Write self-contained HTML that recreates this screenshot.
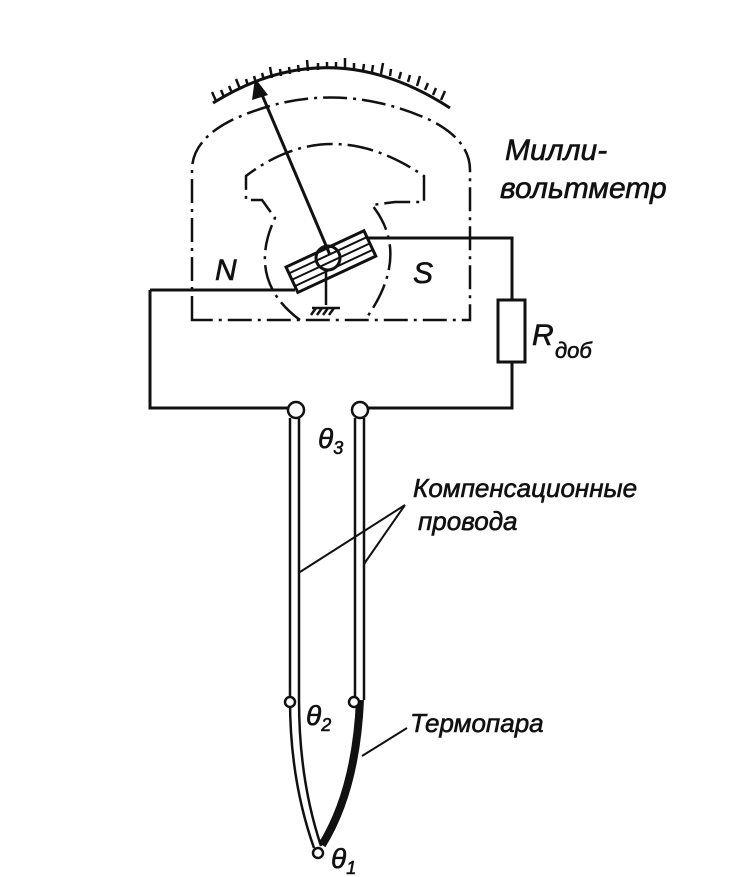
<!DOCTYPE html>
<html><head><style>body{margin:0;background:#fff}svg{display:block}</style></head><body>
<svg width="756" height="877" viewBox="0 0 756 877" xmlns="http://www.w3.org/2000/svg" font-family="Liberation Sans, sans-serif" font-style="italic">
<rect width="756" height="877" fill="#fff"/>
<g stroke="#111" fill="none" stroke-width="3">
<!-- scale -->
<path d="M213,103 Q330,30 450,108" />
<g stroke-width="2.5">
<path d="M216,101 l-4,-9 M224,97 l-3,-7 M232,93 l-3,-7 M240,89 l-4,-10 M248,86 l-2,-7 M256,83 l-2,-7 M264,80 l-2,-7 M272,78 l-2,-11 M281,76 l-1,-7 M290,74 l-1,-7 M299,72 l-1,-7 M308,71 l-1,-11 M318,70 l0,-7 M327,69 l0,-7 M336,69 l0,-7 M345,69 l0,-11 M354,70 l0,-7 M363,71 l1,-7 M372,72 l1,-7 M381,74 l2,-11 M390,76 l1,-7 M399,79 l2,-7 M408,82 l2,-7 M417,86 l3,-10 M425,90 l3,-7 M433,95 l3,-7 M441,100 l4,-9"/>
</g>
<!-- outer dash-dot case -->
<path d="M192,320 L192,170 Q192,140 232,120 Q330,75 430,120 Q470,140 470,170 L470,320 Z" stroke-width="2.5" stroke-dasharray="24,6,3,6"/>
<!-- magnet -->
<path d="M300,320 Q246,280 275,218 L262,200 L246,200 L246,176 Q330,112 424,176 L424,202 L395,202 L372,205 Q412,255 365,320" stroke-width="2.5" stroke-dasharray="26,6,3,6"/>
<!-- wires -->
<path d="M150,290 L295,290"/>
<path d="M150,290 L150,408 L288,408"/>
<path d="M365,238 L512,238 L512,300"/>
<rect x="498" y="300" width="27" height="62"/>
<path d="M512,362 L512,408 L368,408"/>
<!-- coil -->
<g transform="rotate(-25 330 262)">
<rect x="288" y="248" width="86" height="28" fill="#fff"/>
<path d="M288,255 L374,255 M288,262 L374,262 M288,269 L374,269" stroke-width="2"/>
</g>
<circle cx="328" cy="258" r="12" fill="none"/>
<path d="M326,270 L326,305 M312,308 L340,308 M316,308 l-5,7 M322,308 l-5,7 M328,308 l-5,7 M334,308 l-5,7" stroke-width="2.5"/>
<!-- needle -->
<path d="M330,255 L260,90"/>
</g>
<polygon points="255,78 252,100 268,95" fill="#111"/>
<!-- terminals and wires -->
<g stroke="#111" fill="none" stroke-width="2.5">
<circle cx="296" cy="410" r="8"/>
<circle cx="360" cy="410" r="8"/>
<path d="M290,418 L290,700 Q290,780 314,848"/>
<path d="M299,418 L299,700 Q299,780 321,846"/>
<path d="M355,418 L355,700"/>
<path d="M364,418 L364,700"/>
<path d="M360,700 Q356,790 322,845" stroke-width="8"/>
<path d="M405,505 L300,572 M405,505 L364,564 M407,728 L362,756" stroke-width="2"/>
</g>
<g fill="#fff" stroke="#111" stroke-width="2.5">
<circle cx="290" cy="702" r="5"/><circle cx="354" cy="702" r="5"/><circle cx="318" cy="853" r="5"/>
</g>
<g fill="#111" stroke="#111" stroke-width="0.6" font-size="30">
<text x="505" y="160">Милли-</text>
<text x="500" y="198">вольтметр</text>
<text x="215" y="280" font-size="30">N</text>
<text x="413" y="283" font-size="30">S</text>
<text x="532" y="345">R</text><text x="555" y="358" font-size="22">доб</text>
<text x="318" y="448" font-size="28">θ<tspan font-size="18" dy="6">3</tspan></text>
<text x="413" y="497" font-size="26">Компенсационные</text>
<text x="418" y="530" font-size="26">провода</text>
<text x="306" y="725" font-size="28">θ<tspan font-size="18" dy="6">2</tspan></text>
<text x="410" y="732" font-size="26">Термопара</text>
<text x="331" y="868" font-size="28">θ<tspan font-size="18" dy="6">1</tspan></text>
</g>
</svg>
</body></html>
